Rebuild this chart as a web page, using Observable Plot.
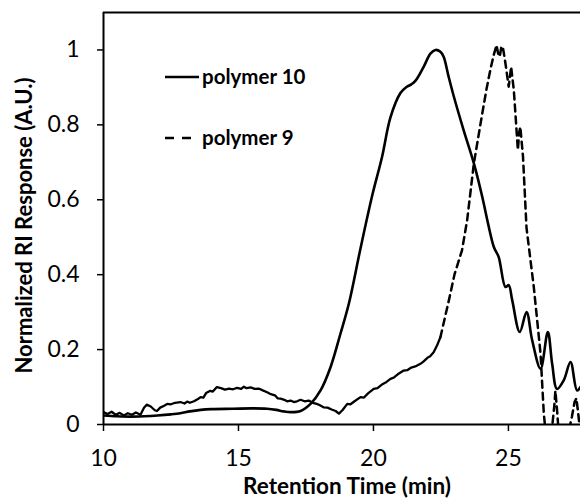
<!DOCTYPE html>
<html>
<head>
<meta charset="utf-8">
<script src="https://cdn.jsdelivr.net/npm/d3@7"></script>
<script src="https://cdn.jsdelivr.net/npm/@observablehq/plot@0.6"></script>
<style>
  html, body { margin: 0; padding: 0; background: #fff; }
  #chart { position: relative; width: 580px; height: 500px; overflow: hidden; }
</style>
</head>
<body>
<div id="chart"></div>
<script>
// ---- data ----
const seriesNames = ["polymer 10", "polymer 9"];
const xTicks = [10, 15, 20, 25];
const yTicks = [0, 0.2, 0.4, 0.6, 0.8, 1];

// polymer 10 (solid)
const p10Time = [10.0, 10.5, 11.0, 11.5, 12.0, 12.5, 12.85, 13.2, 13.6, 14.0, 14.8, 15.5, 16.06, 16.4, 16.67, 16.93, 17.3, 17.67, 18.04, 18.41, 18.78, 19.09, 19.52, 19.95, 20.32, 20.63, 21.0, 21.2, 21.4, 21.56, 21.86, 22.11, 22.3, 22.48, 22.6, 22.78, 22.98, 23.34, 23.72, 24.03, 24.25, 24.46, 24.64, 24.89, 25.01, 25.14, 25.42, 25.67, 25.88, 26.19, 26.46, 26.62, 26.8, 27.05, 27.3, 27.54, 27.67];
const p10Value = [0.024, 0.022, 0.021, 0.022, 0.024, 0.027, 0.030, 0.035, 0.039, 0.041, 0.042, 0.043, 0.042, 0.039, 0.035, 0.033, 0.036, 0.055, 0.091, 0.153, 0.243, 0.323, 0.47, 0.61, 0.715, 0.82, 0.885, 0.900, 0.908, 0.918, 0.955, 0.99, 1.0, 0.995, 0.982, 0.93, 0.875, 0.786, 0.697, 0.608, 0.535, 0.474, 0.447, 0.367, 0.372, 0.332, 0.247, 0.3, 0.225, 0.149, 0.247, 0.162, 0.095, 0.118, 0.167, 0.091, 0.1];

// polymer 9 (dashed)
const p9Time = [10.0, 10.15, 10.3, 10.45, 10.6, 10.75, 10.9, 11.05, 11.2, 11.37, 11.5, 11.6, 11.75, 11.9, 11.98, 12.1, 12.25, 12.36, 12.5, 12.65, 12.85, 13.0, 13.1, 13.2, 13.35, 13.5, 13.6, 13.7, 13.8, 13.96, 14.05, 14.2, 14.35, 14.5, 14.65, 14.8, 14.95, 15.1, 15.2, 15.3, 15.45, 15.6, 15.75, 15.9, 16.06, 16.2, 16.35, 16.45, 16.56, 16.7, 16.8, 16.93, 17.05, 17.17, 17.3, 17.45, 17.6, 17.75, 17.9, 18.0, 18.15, 18.3, 18.45, 18.6, 18.72, 18.85, 19.03, 19.15, 19.3, 19.52, 19.65, 19.8, 20.01, 20.15, 20.3, 20.45, 20.63, 20.75, 20.9, 21.12, 21.25, 21.4, 21.55, 21.74, 21.85, 22.0, 22.1, 22.23, 22.35, 22.48, 22.79, 23.0, 23.28, 23.47, 23.72, 24.03, 24.2, 24.33, 24.45, 24.56, 24.62, 24.68, 24.74, 24.8, 24.89, 25.01, 25.06, 25.1, 25.2, 25.3, 25.35, 25.4, 25.44, 25.54, 25.67, 25.94, 26.19, 26.31, 26.35, 26.45, 26.6, 26.7, 26.74, 26.8, 26.85, 27.0, 27.2, 27.35, 27.45, 27.52, 27.6, 27.67];
const p9Value = [0.033, 0.028, 0.034, 0.026, 0.031, 0.024, 0.030, 0.026, 0.032, 0.026, 0.045, 0.053, 0.048, 0.038, 0.036, 0.045, 0.050, 0.055, 0.054, 0.058, 0.060, 0.056, 0.061, 0.058, 0.062, 0.068, 0.073, 0.072, 0.084, 0.090, 0.088, 0.100, 0.097, 0.093, 0.096, 0.094, 0.098, 0.095, 0.101, 0.097, 0.099, 0.095, 0.096, 0.091, 0.086, 0.081, 0.078, 0.070, 0.069, 0.066, 0.062, 0.064, 0.060, 0.062, 0.066, 0.062, 0.064, 0.058, 0.055, 0.052, 0.046, 0.045, 0.040, 0.036, 0.029, 0.038, 0.055, 0.054, 0.062, 0.073, 0.072, 0.083, 0.095, 0.097, 0.106, 0.112, 0.122, 0.125, 0.134, 0.144, 0.145, 0.152, 0.155, 0.162, 0.168, 0.178, 0.182, 0.193, 0.210, 0.233, 0.33, 0.40, 0.465, 0.545, 0.697, 0.83, 0.90, 0.947, 0.985, 1.013, 0.99, 0.982, 1.01, 1.005, 0.964, 0.902, 0.93, 0.955, 0.893, 0.786, 0.733, 0.78, 0.795, 0.715, 0.525, 0.367, 0.189, 0.03, 0.0, -0.05, -0.02, 0.05, 0.09, 0.04, -0.01, -0.06, -0.03, 0.02, 0.06, 0.07, 0.02, -0.03];

// ---- build tables ----
const p10 = p10Time.map((t, i) => ({t, v: p10Value[i]}));
const p9 = p9Time.map((t, i) => ({t, v: p9Value[i]}));
const dashStart = 22.48;

const font = "Lato, 'Open Sans', sans-serif";

const svg = Plot.plot({
  width: 580,
  height: 500,
  marginLeft: 103,
  marginRight: 0,
  marginTop: 12,
  marginBottom: 76,
  x: {domain: [10, 27.67]},
  y: {domain: [0, 1.1]},
  style: {fontFamily: font, fontSize: "22px", color: "#000", background: "#fff", overflow: "visible"},
  marks: [
    Plot.axisY({ticks: yTicks, tickSize: 6, tickPadding: 18, tickFormat: d => String(d), label: null, fontSize: 23, strokeWidth: 1.5}),
    Plot.axisX({ticks: xTicks, tickSize: 7, tickPadding: 18, tickFormat: d => String(d), label: null, fontSize: 23, strokeWidth: 1.5}),
    Plot.ruleY([0], {stroke: "#000", strokeWidth: 2}),
    Plot.ruleY([1.1], {stroke: "#000", strokeWidth: 2}),
    Plot.ruleX([10], {stroke: "#000", strokeWidth: 2}),
    Plot.line(p9.filter(d => d.t <= dashStart), {x: "t", y: "v", stroke: "#000", strokeWidth: 2.3, clip: true}),
    Plot.line(p9.filter(d => d.t >= dashStart), {x: "t", y: "v", stroke: "#000", strokeWidth: 2.5, strokeDasharray: "7,5", clip: true}),
    Plot.line(p10, {x: "t", y: "v", stroke: "#000", strokeWidth: 2.6, curve: "catmull-rom", clip: true}),
    Plot.text(["Retention Time (min)"], {text: d => d, frameAnchor: "bottom", lineAnchor: "bottom", dy: 69, dx: 5, fontWeight: "bold", fontSize: 22.5, fill: "#000"}),
    Plot.text(["Normalized RI Response (A.U.)"], {text: d => d, frameAnchor: "left", textAnchor: "middle", lineAnchor: "middle", rotate: -90, dx: -79, dy: 7, fontWeight: "bold", fontSize: 22, fill: "#000"})
  ]
});

// legend
const lg = d3.select(svg).append("g")
  .attr("font-family", font).attr("font-weight", "bold").attr("font-size", 20.5).attr("text-anchor", "start");
const legendRows = [
  {name: seriesNames[0], dash: null, y: 77},
  {name: seriesNames[1], dash: "9,8", y: 138}
];
legendRows.forEach(r => {
  lg.append("line").attr("x1", 165).attr("x2", 199).attr("y1", r.y).attr("y2", r.y)
    .attr("stroke", "#000").attr("stroke-width", 2.5).attr("stroke-dasharray", r.dash);
  lg.append("text").attr("x", 202).attr("y", r.y).attr("dy", "0.35em").attr("fill", "#000").text(r.name);
});

document.getElementById("chart").appendChild(svg);
</script>
</body>
</html>
